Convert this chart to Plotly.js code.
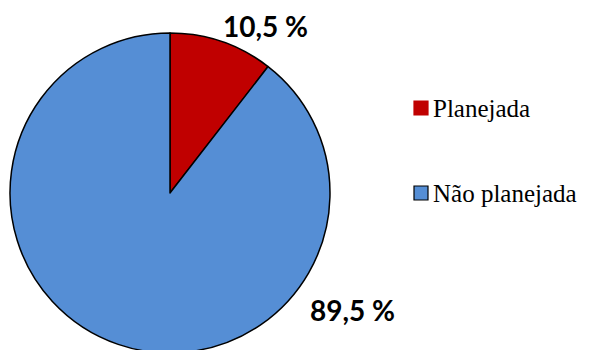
<!DOCTYPE html>
<html><head><meta charset="utf-8">
<script src="https://cdn.plot.ly/plotly-3.0.1.min.js"></script>
<style>html,body{margin:0;padding:0;overflow:hidden;background:#fff}</style>
</head><body><div id="chart"></div>
<script>
const categories = ["Planejada", "Não planejada"];
const values = [10.5, 89.5];
const colors = ["#C00000", "#558ED5"];
const percentLabels = values.map(v => v.toFixed(1).replace('.', ',') + ' %');

const W = 589, H = 360;
const px = x => x / W;
const py = y => (H - y) / H;

const data = [{
  type: 'pie',
  labels: categories,
  values: values,
  sort: false,
  direction: 'clockwise',
  rotation: 0,
  textinfo: 'none',
  hoverinfo: 'none',
  showlegend: false,
  marker: {colors: colors, line: {color: '#000', width: 1.5}},
  domain: {x: [px(10), px(330)], y: [py(353), py(33)]}
}];

const labelPos = [[265, 26], [352, 310]];
const legendY = [108, 193];
const annotations = [];
const shapes = [];
categories.forEach((c, i) => {
  annotations.push({xref:'paper', yref:'paper', x: px(labelPos[i][0]), y: py(labelPos[i][1]),
    xanchor:'center', yanchor:'middle', showarrow:false, text: percentLabels[i],
    font:{family:'Lato', size:28, weight:'bold'}});
  annotations.push({xref:'paper', yref:'paper', x: px(431), y: py(legendY[i]),
    showarrow:false, xanchor:'left', yanchor:'middle', text: c,
    font:{family:'Liberation Serif', size:25}});
  shapes.push({type:'rect', xref:'paper', yref:'paper',
    x0: px(414), x1: px(428), y0: py(legendY[i] - 7), y1: py(legendY[i] + 7),
    fillcolor: colors[i], line:{color: i === 1 ? '#000' : colors[i], width: 1.2}});
});

Plotly.newPlot('chart', data, {
  width: W, height: H,
  font: {color: '#000'},
  margin: {l:0, r:0, t:0, b:0},
  paper_bgcolor: '#fff',
  showlegend: false,
  annotations: annotations,
  shapes: shapes
}, {staticPlot: true}).then(() => {
  document.querySelectorAll('#chart text.annotation-text').forEach(t => {
    if (categories.includes(t.textContent)) {
      t.style.fontFamily = '"Liberation Serif", "Times New Roman", serif';
      t.style.fontWeight = 'normal';
    }
  });
});
</script></body></html>
